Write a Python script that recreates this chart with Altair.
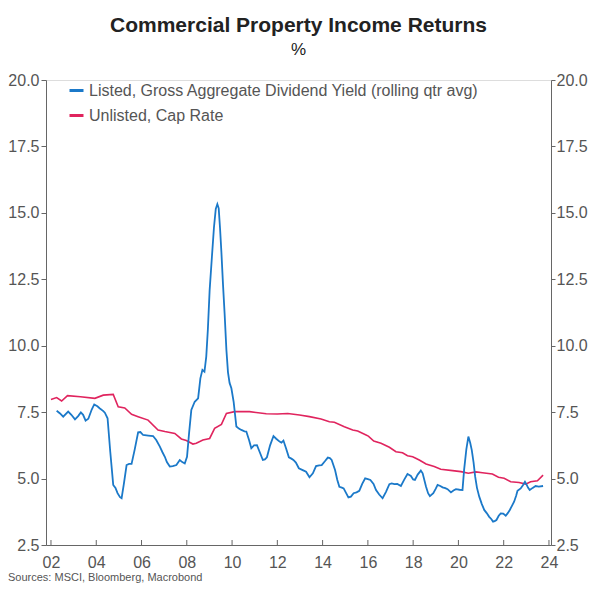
import altair as alt
import pandas as pd

# ---- data ----
listed_years = [2002.25, 2002.40, 2002.54, 2002.76, 2002.90, 2003.06, 2003.20, 2003.32, 2003.42, 2003.53,
                2003.65, 2003.80, 2003.91, 2004.05, 2004.16, 2004.30, 2004.38, 2004.50, 2004.62, 2004.75,
                2004.85, 2004.94, 2005.05, 2005.12, 2005.22, 2005.34, 2005.45, 2005.56, 2005.70, 2005.85,
                2005.95, 2006.07, 2006.30, 2006.51, 2006.65, 2006.81, 2006.92, 2007.03, 2007.12, 2007.25,
                2007.38, 2007.54, 2007.69, 2007.80, 2007.91, 2008.01, 2008.10, 2008.20, 2008.35, 2008.50,
                2008.60, 2008.69, 2008.78, 2008.86, 2008.93, 2009.01, 2009.11, 2009.20, 2009.28, 2009.35,
                2009.41, 2009.47, 2009.53, 2009.60, 2009.67, 2009.75, 2009.82, 2009.89, 2009.97, 2010.07,
                2010.19, 2010.30, 2010.41, 2010.55, 2010.63, 2010.75, 2010.85, 2010.97, 2011.10, 2011.22,
                2011.36, 2011.45, 2011.54, 2011.68, 2011.83, 2011.95, 2012.10, 2012.18, 2012.27, 2012.38,
                2012.51, 2012.62, 2012.71, 2012.82, 2012.95, 2013.12, 2013.27, 2013.42, 2013.57, 2013.71,
                2013.85, 2013.96, 2014.10, 2014.23, 2014.32, 2014.40, 2014.55, 2014.65, 2014.74, 2014.85,
                2014.93, 2015.04, 2015.14, 2015.25, 2015.37, 2015.50, 2015.62, 2015.75, 2015.88, 2016.00,
                2016.11, 2016.25, 2016.36, 2016.50, 2016.65, 2016.80, 2016.95, 2017.05, 2017.17, 2017.30,
                2017.46, 2017.60, 2017.75, 2017.90, 2018.00, 2018.08, 2018.20, 2018.34, 2018.42, 2018.57,
                2018.66, 2018.74, 2018.89, 2019.00, 2019.08, 2019.20, 2019.30, 2019.42, 2019.52, 2019.67,
                2019.78, 2019.89, 2020.05, 2020.18, 2020.25, 2020.35, 2020.44, 2020.52, 2020.59, 2020.67,
                2020.74, 2020.82, 2020.92, 2021.03, 2021.14, 2021.25, 2021.36, 2021.45, 2021.53, 2021.60,
                2021.68, 2021.78, 2021.87, 2021.98, 2022.09, 2022.18, 2022.27, 2022.37, 2022.46, 2022.55,
                2022.61, 2022.75, 2022.85, 2022.94, 2023.00, 2023.08, 2023.15, 2023.28, 2023.41, 2023.55,
                2023.74]
listed_values = [7.55, 7.45, 7.33, 7.52, 7.40, 7.23, 7.35, 7.49, 7.40, 7.18,
                 7.25, 7.60, 7.79, 7.72, 7.64, 7.55, 7.48, 7.27, 6.00, 4.76,
                 4.65, 4.45, 4.30, 4.26, 4.80, 5.51, 5.55, 5.55, 6.10, 6.74,
                 6.75, 6.64, 6.62, 6.60, 6.45, 6.20, 6.00, 5.82, 5.62, 5.45,
                 5.47, 5.51, 5.70, 5.62, 5.57, 5.82, 6.70, 7.58, 7.89, 8.02,
                 8.77, 9.09, 9.02, 9.59, 10.60, 12.10, 13.35, 14.45, 15.15, 15.33,
                 15.17, 14.40, 13.50, 12.30, 11.22, 9.84, 9.00, 8.60, 8.40, 7.89,
                 6.96, 6.88, 6.83, 6.78, 6.77, 6.45, 6.14, 6.25, 6.26, 6.00,
                 5.70, 5.72, 5.80, 6.25, 6.60, 6.50, 6.39, 6.35, 6.43, 6.15,
                 5.80, 5.75, 5.70, 5.60, 5.39, 5.32, 5.26, 5.05, 5.20, 5.47,
                 5.50, 5.51, 5.65, 5.79, 5.77, 5.70, 5.32, 4.95, 4.69, 4.66,
                 4.63, 4.45, 4.29, 4.32, 4.45, 4.48, 4.54, 4.80, 5.01, 4.98,
                 4.95, 4.80, 4.57, 4.40, 4.26, 4.50, 4.79, 4.82, 4.79, 4.80,
                 4.72, 4.95, 5.17, 5.10, 4.97, 4.95, 5.15, 5.30, 5.20, 4.69,
                 4.45, 4.34, 4.45, 4.62, 4.76, 4.72, 4.67, 4.64, 4.60, 4.48,
                 4.55, 4.60, 4.58, 4.57, 5.32, 6.10, 6.58, 6.35, 6.07, 5.60,
                 5.07, 4.65, 4.32, 4.05, 3.82, 3.70, 3.56, 3.48, 3.38, 3.40,
                 3.44, 3.60, 3.69, 3.68, 3.60, 3.70, 3.82, 3.98, 4.13, 4.35,
                 4.54, 4.63, 4.75, 4.88, 4.79, 4.65, 4.57, 4.65, 4.72, 4.70,
                 4.72]

unlisted_years = [2002.00, 2002.25, 2002.47, 2002.73, 2003.30, 2003.94, 2004.31, 2004.75, 2004.97, 2005.26,
                  2005.56, 2005.85, 2006.29, 2006.73, 2007.03, 2007.47, 2007.76, 2007.98, 2008.27, 2008.42,
                  2008.71, 2009.01, 2009.23, 2009.53, 2009.75, 2010.11, 2010.77, 2011.51, 2012.00, 2012.46,
                  2012.98, 2013.42, 2013.93, 2014.30, 2014.52, 2014.96, 2015.33, 2015.55, 2015.92, 2016.02,
                  2016.26, 2016.58, 2016.95, 2017.24, 2017.53, 2017.75, 2017.98, 2018.27, 2018.57, 2018.93,
                  2019.22, 2019.74, 2020.11, 2020.44, 2020.77, 2021.06, 2021.50, 2021.77, 2022.02, 2022.31,
                  2022.68, 2022.97, 2023.19, 2023.49, 2023.74]
unlisted_values = [7.98, 8.05, 7.92, 8.12, 8.08, 8.02, 8.14, 8.17, 7.70, 7.66,
                   7.42, 7.33, 7.20, 6.83, 6.77, 6.70, 6.49, 6.43, 6.30, 6.33,
                   6.45, 6.51, 6.89, 7.04, 7.45, 7.52, 7.52, 7.44, 7.43, 7.45,
                   7.39, 7.33, 7.24, 7.14, 7.12, 6.95, 6.83, 6.79, 6.64, 6.60,
                   6.41, 6.33, 6.18, 6.01, 5.97, 5.86, 5.82, 5.70, 5.55, 5.45,
                   5.35, 5.30, 5.26, 5.20, 5.25, 5.22, 5.17, 5.05, 5.01, 4.88,
                   4.85, 4.79, 4.88, 4.92, 5.13]

series_names = ["Listed, Gross Aggregate Dividend Yield (rolling qtr avg)", "Unlisted, Cap Rate"]
series_colors = ["#1b79c9", "#e0245e"]
x_ticks = list(range(2002, 2025, 2))
y_ticks = [2.5, 5.0, 7.5, 10.0, 12.5, 15.0, 17.5, 20.0]

listed = pd.DataFrame({"year": listed_years, "value": listed_values, "series": series_names[0]})
unlisted = pd.DataFrame({"year": unlisted_years, "value": unlisted_values, "series": series_names[1]})
ticks_df = pd.DataFrame({"year": x_ticks})

W, H = 505, 465
FONT = "Liberation Sans"

x_scale = alt.Scale(domain=[2001.78, 2024.09], nice=False, zero=False)
y_scale = alt.Scale(domain=[2.5, 20], nice=False, zero=False)
color_scale = alt.Scale(domain=series_names, range=series_colors)

x_axis = alt.Axis(values=x_ticks, labelExpr="substring(toString(datum.value), 2)", title=None,
                  grid=False, ticks=False, domainColor="#666", labelColor="#555",
                  labelFontSize=16, labelFont=FONT, labelPadding=9, labelFlush=False)

def y_axis(orient):
    return alt.Axis(values=y_ticks, format=".1f", orient=orient, title=None, grid=False,
                    tickSize=4 if orient == "right" else 5, tickColor="#666", domainColor="#666",
                    labelColor="#555", labelFontSize=16, labelFont=FONT,
                    labelPadding=1 if orient == "right" else 2)

base_color = alt.Color("series:N", scale=color_scale,
                       legend=alt.Legend(orient="none", legendX=22, legendY=2, title=None,
                                         symbolType="stroke", symbolStrokeWidth=3, symbolSize=196,
                                         labelFontSize=16, labelFont=FONT, labelColor="#555",
                                         labelLimit=600, rowPadding=8, labelOffset=4, padding=0))

red = alt.Chart(unlisted).mark_line(strokeWidth=1.6).encode(
    x=alt.X("year:Q", scale=x_scale, axis=x_axis),
    y=alt.Y("value:Q", scale=y_scale, axis=y_axis("left")),
    color=base_color,
)
blue = alt.Chart(listed).mark_line(strokeWidth=1.8).encode(
    x=alt.X("year:Q", scale=x_scale),
    y=alt.Y("value:Q", scale=y_scale),
    color=alt.Color("series:N", scale=color_scale),
)
right_axis = alt.Chart(unlisted).mark_line(opacity=0).encode(
    x=alt.X("year:Q", scale=x_scale),
    y=alt.Y("value:Q", scale=y_scale, axis=y_axis("right")),
)
xticks = alt.Chart(ticks_df).mark_rule(color="#666", strokeWidth=1).encode(
    x=alt.X("year:Q", scale=x_scale),
    y=alt.value(H), y2=alt.value(H - 5),
)
source = alt.Chart(pd.DataFrame({"t": ["Sources: MSCI, Bloomberg, Macrobond"]})).mark_text(
    align="left", baseline="bottom", fontSize=11, font=FONT, color="#555"
).encode(text="t:N", x=alt.value(-38), y=alt.value(H + 38))

left_part = alt.layer(red, blue, xticks, source)
chart = alt.layer(left_part, right_axis).resolve_scale(y="independent").properties(
    width=W, height=H,
    title=alt.TitleParams(text="Commercial Property Income Returns", subtitle="%",
                          fontSize=21, fontWeight="bold", font=FONT, color="#222",
                          subtitleFontSize=17, subtitleFont=FONT, subtitleColor="#222",
                          anchor="middle", offset=14, subtitlePadding=6),
    autosize=alt.AutoSizeParams(type="none"),
    padding={"left": 38, "top": 72, "right": 37, "bottom": 38},
).configure_view(strokeWidth=0, stroke="transparent").configure(background="white")

chart.save("out.html", embed_options={"renderer": "svg", "actions": False})
